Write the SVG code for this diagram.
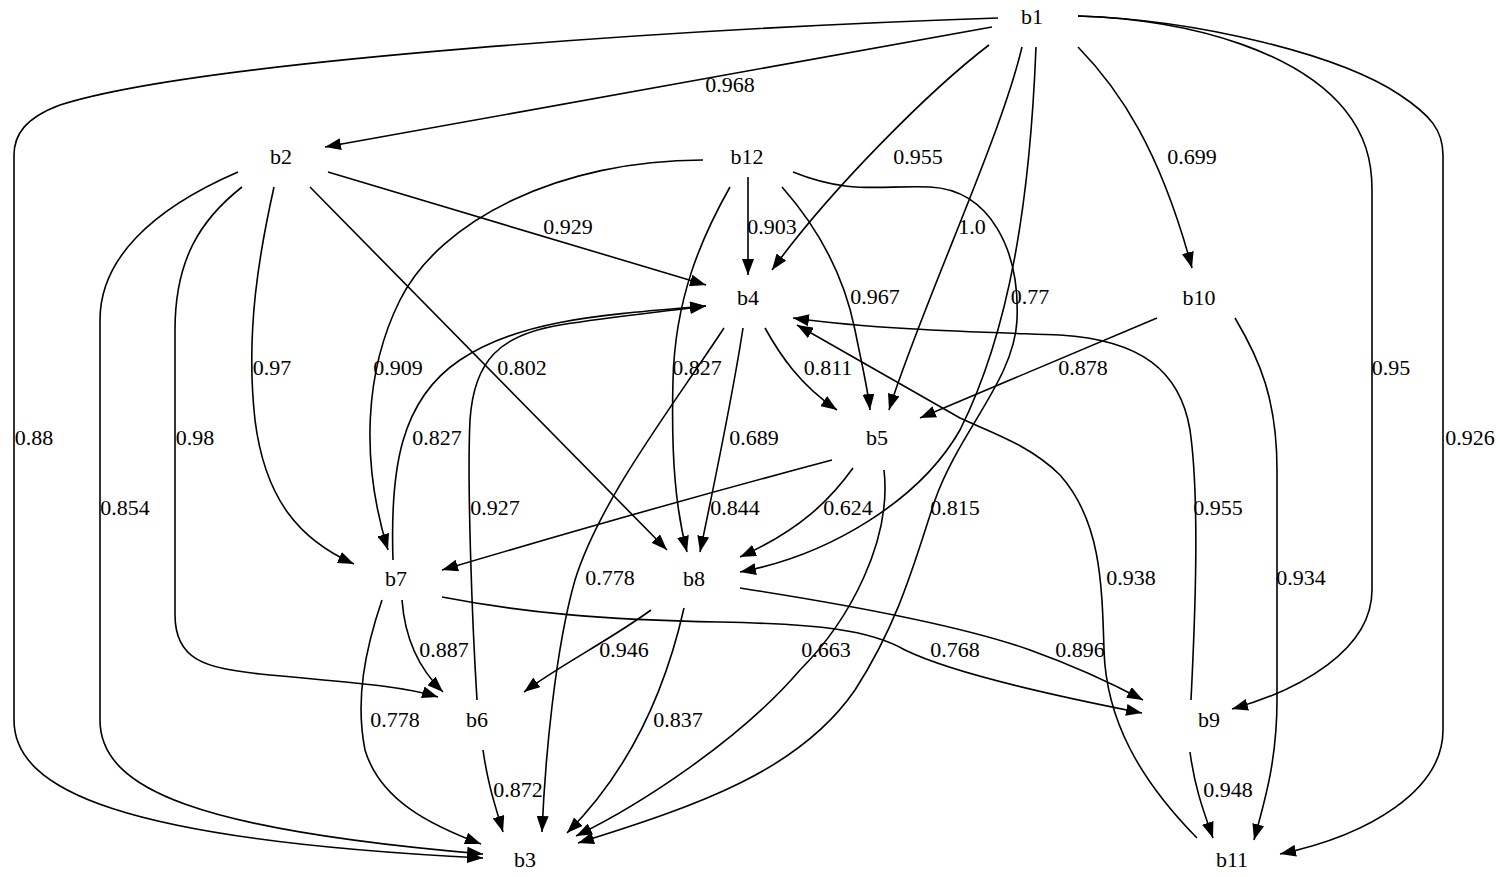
<svg xmlns="http://www.w3.org/2000/svg" width="1500" height="877" viewBox="0 0 1500 877">
<style>
text{font-family:"Liberation Serif","DejaVu Serif","Times New Roman",serif;font-size:22px;fill:#000;text-anchor:middle}
.e path{fill:none;stroke:#000;stroke-width:1.6;marker-end:url(#ah)}
</style>
<defs>
<marker id="ah" markerUnits="userSpaceOnUse" markerWidth="16" markerHeight="12" refX="16" refY="6" orient="auto">
<path d="M0,0 L16,6 L0,12 z" fill="#000"/>
</marker>
</defs>
<rect width="1500" height="877" fill="#fff"/>
<g id="connectors" class="e">
<path d="M998,18 C700,28 200,60 60,105 C25,118 14,135 14,155 L14,720 C14,790 120,840 483,858"/>
<path d="M992,27 L325,147"/>
<path d="M989,45 C930,90 830,190 772,270"/>
<path d="M1022,47 C1000,140 920,310 889,410"/>
<path d="M1036,47 C1030,200 1010,330 960,430 C920,500 830,555 740,572"/>
<path d="M1078,47 C1120,90 1160,150 1192,268"/>
<path d="M1078,16 C1200,20 1300,55 1345,110 C1365,135 1372,160 1372,190 L1372,590 C1372,650 1300,690 1232,709"/>
<path d="M1078,16 C1200,20 1340,55 1400,95 C1430,115 1443,130 1443,155 L1443,730 C1443,790 1370,835 1280,854"/>
<path d="M328,172 L706,285"/>
<path d="M238,172 C150,210 100,260 100,320 L100,720 C100,790 200,830 483,854"/>
<path d="M242,187 C200,220 175,260 175,330 L175,615 C175,660 205,668 260,674 C340,682 400,685 438,697"/>
<path d="M274,187 C260,250 245,330 255,420 C265,500 300,540 354,564"/>
<path d="M310,187 L667,550"/>
<path d="M703,160 C560,160 440,220 400,300 C365,370 360,460 388,550"/>
<path d="M748,177 L748,275"/>
<path d="M730,187 C700,240 675,300 673,380 C671,460 676,510 687,552"/>
<path d="M782,187 C820,230 845,280 855,330 C863,370 868,390 870,410"/>
<path d="M793,172 C850,195 880,185 930,187 C990,190 1020,250 1017,320 C1014,380 960,430 935,500 C915,560 900,620 855,690 C800,770 700,805 578,843"/>
<path d="M765,328 C780,355 800,385 837,410"/>
<path d="M743,328 C732,400 715,480 700,552"/>
<path d="M724,328 C670,410 600,500 575,580 C555,650 545,760 542,832"/>
<path d="M393,560 C390,470 400,400 460,360 C520,320 600,315 706,306"/>
<path d="M477,700 C472,620 467,480 470,420 C474,360 500,335 560,325 C610,317 660,312 706,306"/>
<path d="M1157,318 L920,418"/>
<path d="M1235,318 C1260,360 1277,400 1277,470 L1277,700 C1277,760 1265,800 1254,840"/>
<path d="M832,460 C700,495 560,535 442,570"/>
<path d="M853,468 C830,500 800,530 740,557"/>
<path d="M884,470 C892,540 850,620 800,670 C740,740 640,805 576,836"/>
<path d="M442,597 C520,612 600,620 720,622 C820,624 870,630 905,650 C950,672 1050,695 1142,713"/>
<path d="M740,588 C850,605 960,625 1030,650 C1080,668 1115,685 1143,700"/>
<path d="M402,600 C405,640 420,670 443,692"/>
<path d="M382,600 C365,650 355,700 365,750 C380,800 430,825 481,844"/>
<path d="M651,610 C610,640 560,665 524,692"/>
<path d="M684,608 C670,670 640,760 567,833"/>
<path d="M483,750 C488,785 495,805 503,832"/>
<path d="M1191,700 C1195,620 1200,500 1190,430 C1180,370 1140,340 1060,335 C980,332 880,330 793,318"/>
<path d="M1197,838 C1140,780 1106,720 1104,650 C1102,580 1100,520 1060,475 C1030,445 990,432 960,418 L797,325"/>
<path d="M1190,752 C1195,790 1205,815 1213,838"/>
</g>
<g id="edge-labels">
<text x="730" y="92">0.968</text>
<text x="918" y="164">0.955</text>
<text x="1192" y="164">0.699</text>
<text x="568" y="234">0.929</text>
<text x="772" y="234">0.903</text>
<text x="972" y="234">1.0</text>
<text x="875" y="304">0.967</text>
<text x="1030" y="304">0.77</text>
<text x="272" y="375">0.97</text>
<text x="398" y="375">0.909</text>
<text x="522" y="375">0.802</text>
<text x="697" y="375">0.827</text>
<text x="828" y="375">0.811</text>
<text x="1083" y="375">0.878</text>
<text x="1391" y="375">0.95</text>
<text x="34" y="445">0.88</text>
<text x="195" y="445">0.98</text>
<text x="437" y="445">0.827</text>
<text x="754" y="445">0.689</text>
<text x="1470" y="445">0.926</text>
<text x="125" y="515">0.854</text>
<text x="495" y="515">0.927</text>
<text x="735" y="515">0.844</text>
<text x="848" y="515">0.624</text>
<text x="955" y="515">0.815</text>
<text x="1218" y="515">0.955</text>
<text x="610" y="585">0.778</text>
<text x="1131" y="585">0.938</text>
<text x="1301" y="585">0.934</text>
<text x="444" y="657">0.887</text>
<text x="624" y="657">0.946</text>
<text x="826" y="657">0.663</text>
<text x="955" y="657">0.768</text>
<text x="1080" y="657">0.896</text>
<text x="395" y="727">0.778</text>
<text x="678" y="727">0.837</text>
<text x="518" y="797">0.872</text>
<text x="1228" y="797">0.948</text>
</g>
<g id="b1"><text x="1032" y="24">b1</text></g>
<g id="b2"><text x="281" y="164">b2</text></g>
<g id="b12"><text x="747" y="164">b12</text></g>
<g id="b4"><text x="748" y="305">b4</text></g>
<g id="b10"><text x="1199" y="305">b10</text></g>
<g id="b5"><text x="877" y="445">b5</text></g>
<g id="b7"><text x="396" y="586">b7</text></g>
<g id="b8"><text x="694" y="586">b8</text></g>
<g id="b6"><text x="477" y="727">b6</text></g>
<g id="b9"><text x="1209" y="727">b9</text></g>
<g id="b3"><text x="525" y="867">b3</text></g>
<g id="b11"><text x="1232" y="867">b11</text></g>
</svg>
